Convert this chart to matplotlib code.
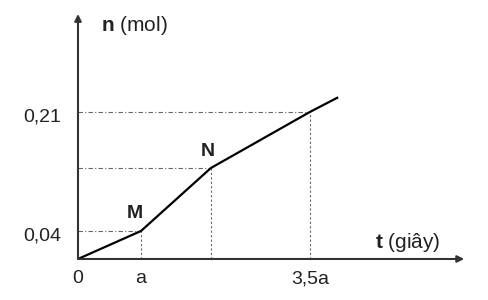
import matplotlib
matplotlib.use("Agg")
import matplotlib.pyplot as plt

# data (t in units of a, n in mol)
t_pts = [0.0, 1.0, 2.11, 3.68, 4.13]
n_pts = [0.0, 0.04, 0.13, 0.21, 0.231]
guide_t = [1.0, 2.11, 3.68]
guide_n = [0.04, 0.13, 0.21]
xtick_pos = [0.0, 1.0, 3.68]
xtick_labels = ["0", "a", "3,5a"]
ytick_pos = [0.04, 0.21]
ytick_labels = ["0,04", "0,21"]
point_labels = ["M", "N"]

plt.rcParams['font.family'] = ['Liberation Sans', 'DejaVu Sans']
plt.rcParams['mathtext.fontset'] = 'custom'
plt.rcParams['mathtext.rm'] = 'Liberation Sans'
plt.rcParams['mathtext.bf'] = 'Liberation Sans:bold'

fig = plt.figure(figsize=(4.89, 3.0), dpi=100)
ax = fig.add_axes([0, 0, 1, 1])
ax.set_xlim(-1.238, 6.524)
ax.set_ylim(-0.0586, 0.37)
ax.axis('off')

# axes arrows
ax.annotate('', xy=(6.13, 0), xytext=(0, 0),
            arrowprops=dict(arrowstyle='-|>', color='#333333', lw=1.5,
                            mutation_scale=10, shrinkA=0, shrinkB=0))
ax.annotate('', xy=(0, 0.350), xytext=(0, 0),
            arrowprops=dict(arrowstyle='-|>', color='#333333', lw=1.5,
                            mutation_scale=10, shrinkA=0, shrinkB=0))

# guide lines
for gt, gn in zip(guide_t, guide_n):
    ax.plot([0, gt], [gn, gn], color='#666666', lw=0.8, ls=(0, (4, 2, 1, 2)))
    ax.plot([gt, gt], [0, gn], color='#666666', lw=0.8, ls=(0, (2, 2)))

# main line
ax.plot(t_pts, n_pts, color='black', lw=1.6, solid_capstyle='butt')

fs = 14
tc = '#222222'
for p, lab in zip(ytick_pos, ytick_labels):
    ax.text(-0.26, p - 0.007, lab, ha='right', va='center', fontsize=fs, color=tc)
for p, lab in zip(xtick_pos, xtick_labels):
    ax.text(p, -0.028, lab, ha='center', va='center', fontsize=fs, color=tc)

ax.text(t_pts[1] - 0.1, n_pts[1] + 0.025, point_labels[0], ha='center', va='center',
        fontsize=fs, fontweight='bold', color=tc)
ax.text(t_pts[2] - 0.05, n_pts[2] + 0.023, point_labels[1], ha='center', va='center',
        fontsize=fs, fontweight='bold', color=tc)

ax.text(0.37, 0.334, r"$\mathbf{n}$ (mol)", ha='left', va='center', fontsize=15, color=tc)
ax.text(4.71, 0.023, r"$\mathbf{t}$ (giây)", ha='left', va='center', fontsize=15, color=tc)

fig.savefig('out.png', dpi=100)
